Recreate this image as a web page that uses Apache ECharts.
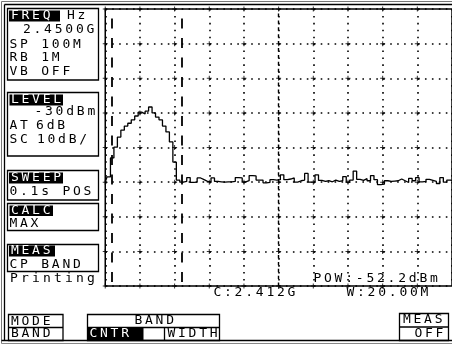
<!DOCTYPE html>
<html>
<head>
<meta charset="utf-8">
<script src="https://cdn.jsdelivr.net/npm/echarts@6/dist/echarts.min.js"></script>
<style>
html,body{margin:0;padding:0;background:#fff;}
#main{width:452px;height:345px;}
</style>
</head>
<body>
<div id="main"></div>
<script>
// trace: frequency (MHz) and level (dBm)
var freqs = [
    2400,2401,2402,2403,2404,2405,2406,2407,2408,2409,
    2410,2411,2412,2413,2414,2415,2416,2417,2418,2419,
    2420,2421,2422,2423,2424,2425,2426,2427,2428,2429,
    2430,2431,2432,2433,2434,2435,2436,2437,2438,2439,
    2440,2441,2442,2443,2444,2445,2446,2447,2448,2449,
    2450,2451,2452,2453,2454,2455,2456,2457,2458,2459,
    2460,2461,2462,2463,2464,2465,2466,2467,2468,2469,
    2470,2471,2472,2473,2474,2475,2476,2477,2478,2479,
    2480,2481,2482,2483,2484,2485,2486,2487,2488,2489,
    2490,2491,2492,2493,2494,2495,2496,2497,2498,2499,2500
];
var levels = [
    -80.0,-78.5,-73.0,-69.9,-67.0,-65.0,-63.8,-63.0,-62.0,-60.9,
    -59.8,-60.3,-59.5,-58.3,-60.0,-61.2,-62.0,-63.8,-65.5,-68.4,
    -74.2,-79.4,-80.0,-79.8,-78.7,-80.1,-80.0,-78.8,-79.3,-79.8,
    -79.9,-78.8,-79.8,-79.9,-80.0,-79.9,-79.9,-79.8,-78.7,-78.8,
    -79.9,-79.6,-78.1,-78.2,-79.4,-79.4,-80.2,-80.1,-79.3,-79.4,
    -79.3,-77.9,-79.3,-79.1,-78.8,-80.0,-79.6,-79.4,-77.5,-80.0,
    -79.9,-77.9,-79.5,-79.8,-79.6,-79.9,-79.4,-79.8,-79.6,-78.4,
    -80.0,-79.4,-76.8,-79.2,-79.5,-79.0,-79.6,-78.1,-79.3,-80.7,
    -80.6,-79.6,-79.8,-79.7,-79.6,-79.1,-79.6,-80.1,-78.9,-79.6,
    -78.7,-79.9,-79.8,-79.2,-79.5,-79.8,-80.4,-78.7,-80.0,-79.4,-79.5
];
// grid ticks (10 MHz / 10 dB per div)
var xTicks = [2400,2410,2420,2430,2440,2450,2460,2470,2480,2490];
var yTicks = [-110,-100,-90,-80,-70,-60,-50,-40,-30];
// band markers (C 2.412G, W 20M) and centre line
var bandEdges = [2402, 2422];
var centreFreq = [2450];

var trace = [];
for (var i = 0; i < freqs.length; i++) trace.push([freqs[i], levels[i]]);
var crosses = [];
for (var a = 0; a < xTicks.length; a++)
    for (var b = 0; b < yTicks.length; b++) crosses.push([xTicks[a], yTicks[b]]);

var FONT = '13px "DejaVu Sans Mono"';
// one glyph per fixed cell, like the LCD
function lcd(str, x, y, fill, cw){
    cw = cw || 10.6;
    var els = [];
    for (var k = 0; k < str.length; k++){
        if (str[k] == ' ') continue;
        els.push({type:'text', x: x + cw*k + cw/2, y: y, silent:true,
            style:{text: str[k], fill: fill || '#000', font: FONT, align:'center', verticalAlign:'middle'}});
    }
    return els;
}
function box(x, y, w, h){
    return {type:'rect', silent:true, shape:{x:x, y:y, width:w, height:h},
        style:{fill:'none', stroke:'#000', lineWidth:1.3}};
}
function blk(x, y, w, h){
    return {type:'rect', silent:true, shape:{x:x, y:y, width:w, height:h}, style:{fill:'#000'}};
}
function ln(x1, y1, x2, y2, c, w){
    return {type:'line', silent:true, shape:{x1:x1, y1:y1, x2:x2, y2:y2},
        style:{stroke: c || '#000', lineWidth: w || 1.3}};
}

var g = [];
// outer frame
g.push(ln(1.5, 1.5, 452, 1.5, '#777', 1));
g.push(ln(1.5, 1.5, 1.5, 343.5, '#777', 1));
g.push(ln(4.5, 4.5, 452, 4.5, '#000', 1.3));
g.push(ln(4.5, 4.5, 4.5, 340.5, '#000', 1.3));
g.push(ln(1.5, 340.5, 452, 340.5, '#000', 1.6));
g.push(ln(1.5, 343.5, 452, 343.5, '#888', 1));
// FREQ
g.push(box(7.5, 8.5, 91, 71.5));
g.push(blk(9, 10.5, 51, 11));
g = g.concat(lcd('FREQ', 9.5, 16, '#fff'), lcd('Hz', 65.5, 16),
    lcd('2.4500G', 21.5, 30), lcd('SP 100M', 8, 45), lcd('RB 1M', 8, 58), lcd('VB OFF', 8, 72));
// LEVEL
g.push(box(7.5, 92.5, 91, 63.5));
g.push(blk(9.5, 94.5, 53.5, 11));
g = g.concat(lcd('LEVEL', 9.5, 100, '#fff'), lcd('-30dBm', 33, 112),
    lcd('AT', 8, 126), lcd('6dB', 34.7, 126), lcd('SC', 8, 140), lcd('10dB/', 35.5, 140));
// SWEEP
g.push(box(7.5, 170.5, 91, 29.5));
g.push(blk(9, 172.5, 54, 11));
g = g.concat(lcd('SWEEP', 9.5, 178, '#fff'), lcd('0.1s POS', 8, 192));
// CALC
g.push(box(7.5, 203.5, 91, 27));
g.push(blk(9.5, 205.5, 43.5, 10.5));
g = g.concat(lcd('CALC', 9.5, 211, '#fff'), lcd('MAX', 8, 223.5));
// MEAS
g.push(box(7.5, 244.5, 91, 27));
g.push(blk(9, 245.5, 46, 11));
g = g.concat(lcd('MEAS', 9.5, 251, '#fff'), lcd('CP BAND', 8, 265), lcd('Printing', 8.5, 279, '#000', 11));
// soft keys
g.push(box(8.5, 314.5, 54.5, 26));
g.push(ln(8.5, 327.5, 63, 327.5));
g = g.concat(lcd('MODE', 9.5, 321.5), lcd('BAND', 9.5, 334));
g.push(box(87.5, 314.5, 132, 26));
g.push(ln(87.5, 327.5, 219.5, 327.5));
g.push(ln(164.5, 327.5, 164.5, 340.5));
g.push(blk(87.5, 328, 56, 12.5));
g = g.concat(lcd('BAND', 133, 320.5), lcd('CNTR', 88, 334, '#fff'), lcd('WIDTH', 166, 334));
g.push(box(399.5, 313.5, 49, 27));
g.push(ln(399.5, 327, 448.5, 327));
g = g.concat(lcd('MEAS', 401.5, 320), lcd('OFF', 413, 333.5));
// readouts
g = g.concat(lcd('POW:-52.2dBm', 312, 279), lcd('C:2.412G', 212, 293), lcd('W:20.00M', 345, 293));

var chart = echarts.init(document.getElementById('main'));
var option = {
    animation: false,
    backgroundColor: '#fff',
    grid: {left:105.25, top:9, width:347.5, height:277, show:true, borderColor:'#000', borderWidth:1.5},
    xAxis: {
        type:'value', min:2400, max:2500, interval:10,
        axisLine:{show:false}, axisTick:{show:false}, axisLabel:{show:false},
        splitLine:{show:true, lineStyle:{color:'#000', width:1.6, type:[1.6, 5.32]}}
    },
    yAxis: {
        type:'value', min:-110, max:-30, interval:10,
        axisLine:{show:false}, axisTick:{show:false}, axisLabel:{show:false},
        splitLine:{show:true, lineStyle:{color:'#000', width:1.6, type:[1.6, 5.35]}}
    },
    graphic: g,
    series: [
        {
            // grid intersections
            type:'scatter', data: crosses, silent:true,
            symbol:'path://M2,0H3V2H5V3H3V5H2V3H0V2H2Z', symbolSize:5,
            itemStyle:{color:'#000'}, z:1
        },
        {
            type:'line', data:[], silent:true,
            markLine:{
                silent:true, symbol:['none','none'], label:{show:false}, animation:false,
                lineStyle:{color:'#000', width:1.8, type:[10, 9.5], dashOffset:15.5},
                data: bandEdges.map(function(v){ return {xAxis:v}; })
            }
        },
        {
            type:'line', data:[], silent:true,
            markLine:{
                silent:true, symbol:['none','none'], label:{show:false}, animation:false,
                lineStyle:{color:'#000', width:1.4, type:[3.4, 3.5]},
                data: centreFreq.map(function(v){ return {xAxis:v}; })
            }
        },
        {
            name:'trace', type:'line', data: trace, step:'middle',
            showSymbol:false, silent:true, z:5,
            lineStyle:{color:'#000', width:1.3}
        }
    ]
};
chart.setOption(option);
</script>
</body>
</html>
